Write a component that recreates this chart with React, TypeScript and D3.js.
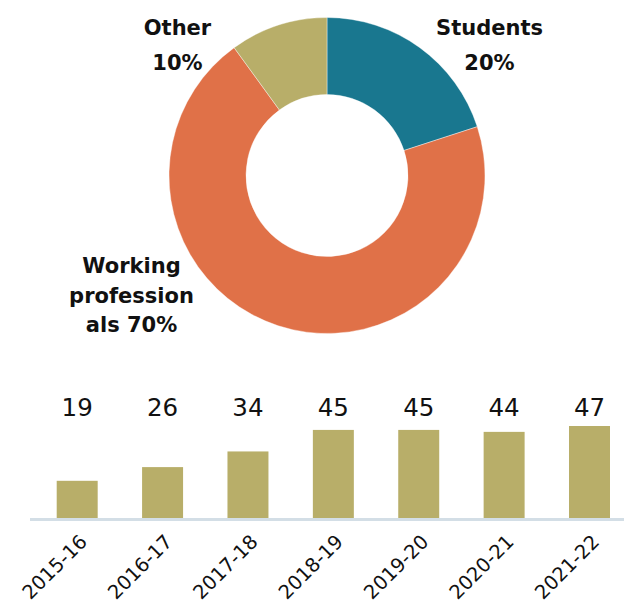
import React from "react";
import * as d3 from "d3";

const segments = ["Students", "Working professionals", "Other"];
const shares = [20, 70, 10];
const segmentColors = ["#19778f", "#e07148", "#b8ae69"];

const years = ["2015-16", "2016-17", "2017-18", "2018-19", "2019-20", "2020-21", "2021-22"];
const counts = [19, 26, 34, 45, 45, 44, 47];

const W = 624;
const H = 601;
const FONT = "'DejaVu Sans', sans-serif";

export default function App() {
  const cx = 327;
  const cy = 175.5;
  const outerR = 158;
  const innerR = 81;

  const pie = d3.pie<number>().sort(null).value((d) => d)(shares);
  const arc = d3.arc<d3.PieArcDatum<number>>().innerRadius(innerR).outerRadius(outerR);

  const labelLines: string[][] = [
    [segments[0], `${shares[0]}%`],
    ["Working", "profession", `als ${shares[1]}%`],
    [segments[2], `${shares[2]}%`],
  ];
  const labelPos = [
    { x: 489.5, y: 35 },
    { x: 131.5, y: 273 },
    { x: 177.5, y: 35 },
  ];
  const lineH = [35, 29.5, 35];

  const baseY = 518;
  const x = d3.scaleBand<string>().domain(years).range([56.7, 610]).paddingInner(0.52).paddingOuter(0);
  const y = d3.scaleLinear().domain([0, 47]).range([baseY, 426]);

  return (
    <svg width={W} height={H} style={{ position: "absolute", left: 0, top: 0, background: "#fff" }} fontFamily={FONT}>
      <g transform={`translate(${cx},${cy})`}>
        {pie.map((p, i) => (
          <path key={i} d={arc(p) || ""} fill={segmentColors[i]} stroke="#fff" strokeWidth={0.4} />
        ))}
      </g>
      {labelLines.map((lines, i) => (
        <text key={i} x={labelPos[i].x} y={labelPos[i].y} textAnchor="middle" fontSize={21} fontWeight={700} fill="#111">
          {lines.map((l, j) => (
            <tspan key={j} x={labelPos[i].x} dy={j === 0 ? 0 : lineH[i]}>
              {l}
            </tspan>
          ))}
        </text>
      ))}

      {counts.map((v, i) => (
        <rect key={i} x={x(years[i])!} y={y(v)} width={x.bandwidth()} height={baseY - y(v)} fill="#b8ae69" />
      ))}
      <line x1={30} x2={W} y1={519.5} y2={519.5} stroke="#d3dee6" strokeWidth={3} />
      {counts.map((v, i) => (
        <text key={i} x={x(years[i])! + x.bandwidth() / 2} y={416} textAnchor="middle" fontSize={24.5} fill="#111">
          {v}
        </text>
      ))}
      {years.map((yr, i) => {
        const ax = x(yr)! + x.bandwidth() / 2 + 11;
        const ay = 543;
        return (
          <text key={yr} transform={`translate(${ax},${ay}) rotate(-45)`} textAnchor="end" fontSize={19.5} fill="#111">
            {yr}
          </text>
        );
      })}
    </svg>
  );
}
